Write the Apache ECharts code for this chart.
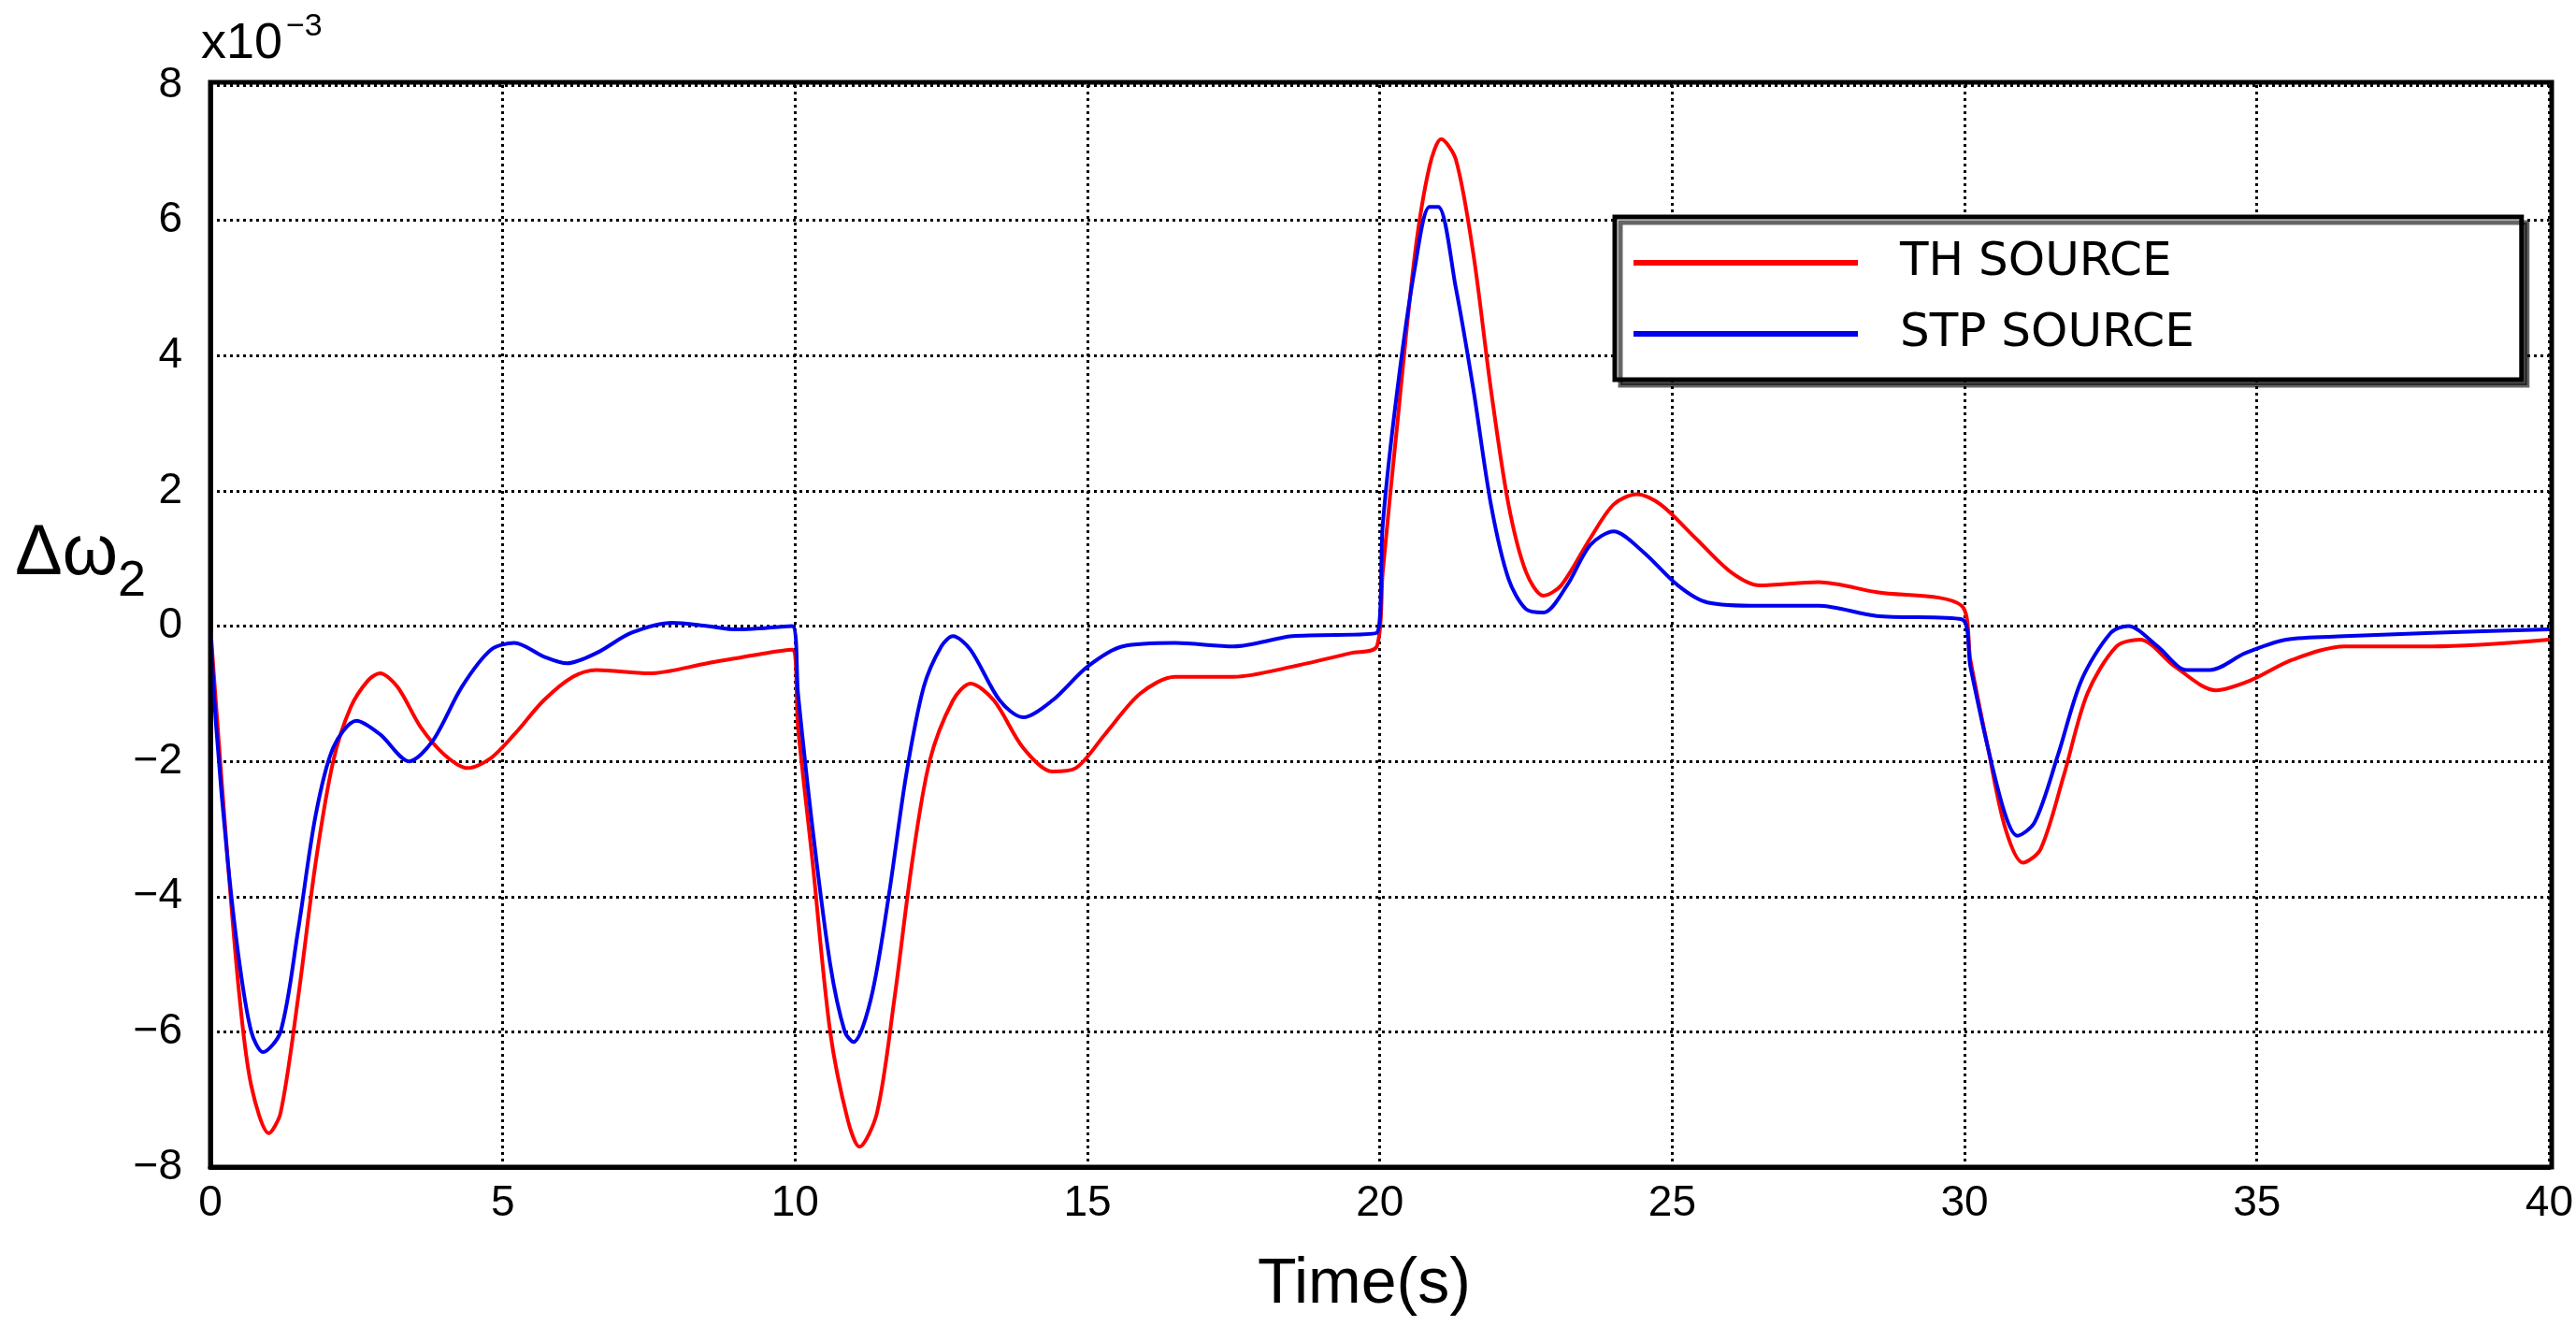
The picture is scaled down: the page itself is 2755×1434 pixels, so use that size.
<!DOCTYPE html>
<html>
<head>
<meta charset="utf-8">
<script src="https://cdn.jsdelivr.net/npm/echarts@6/dist/echarts.min.js"></script>
<style>html,body{margin:0;padding:0;background:#fff}#chart{width:2755px;height:1434px}</style>
</head>
<body>
<div id="chart"></div>
<script>
// values in units of 1e-3
var thTime = [0,0.1,0.3,0.5,0.7,1.0,1.2,1.5,1.8,2.1,2.4,2.7,2.9,3.2,3.6,4.0,4.4,4.8,5.2,5.7,6.2,6.6,7.5,8.5,9.5,9.95,10.05,10.3,10.6,10.9,11.1,11.4,11.7,12.0,12.3,12.7,13.0,13.4,13.9,14.4,14.8,15.3,15.9,16.5,17.5,18.5,19.5,19.95,20.05,20.3,20.6,20.85,21.05,21.3,21.6,21.9,22.2,22.5,22.8,23.1,23.6,24.0,24.4,24.8,25.4,26.0,26.5,27.5,28.5,29.95,30.1,30.4,30.7,31.0,31.3,31.7,32.1,32.6,33.0,33.6,34.3,34.9,35.6,36.5,38,40];
var thValues = [0,-1.2,-3.5,-5.5,-6.8,-7.5,-7.2,-5.5,-3.5,-2.0,-1.2,-0.8,-0.7,-0.9,-1.5,-1.9,-2.1,-1.95,-1.6,-1.1,-0.75,-0.65,-0.7,-0.55,-0.4,-0.35,-1.5,-3.5,-6,-7.3,-7.7,-7.2,-5.5,-3.5,-2.0,-1.1,-0.85,-1.1,-1.8,-2.15,-2.1,-1.6,-1.0,-0.75,-0.75,-0.6,-0.4,-0.3,0.8,3,5.5,6.8,7.2,6.9,5.5,3.5,1.8,0.8,0.45,0.6,1.3,1.8,1.95,1.8,1.3,0.8,0.6,0.65,0.5,0.3,-0.5,-1.8,-3.0,-3.5,-3.3,-2.2,-1.0,-0.3,-0.2,-0.6,-0.95,-0.8,-0.5,-0.3,-0.3,-0.2];
var stpTime = [0,0.1,0.3,0.5,0.7,0.9,1.2,1.5,1.8,2.1,2.5,2.9,3.4,3.8,4.3,4.8,5.2,5.7,6.1,6.6,7.2,7.9,8.5,9.0,9.95,10.05,10.3,10.6,10.85,11.0,11.3,11.6,11.9,12.2,12.5,12.7,13.0,13.5,13.9,14.4,15.0,15.6,16.5,17.5,18.5,19.95,20.05,20.3,20.6,20.85,21.0,21.3,21.6,21.9,22.2,22.5,22.8,23.2,23.6,24.0,24.5,25.1,25.6,26.5,27.5,28.5,29.95,30.1,30.4,30.7,30.9,31.2,31.6,32.0,32.5,32.8,33.3,33.8,34.2,34.8,35.5,36.5,38,40];
var stpValues = [0,-1.5,-3.5,-5.0,-6.0,-6.3,-6.0,-4.5,-2.8,-1.8,-1.4,-1.6,-2.0,-1.7,-0.9,-0.35,-0.25,-0.45,-0.55,-0.4,-0.1,0.05,0.0,-0.05,0,-1.0,-3.0,-5.0,-6.0,-6.15,-5.5,-4.0,-2.2,-0.9,-0.3,-0.15,-0.35,-1.1,-1.35,-1.1,-0.6,-0.3,-0.25,-0.3,-0.15,-0.1,1.5,3.5,5.3,6.2,6.2,5.0,3.5,1.8,0.7,0.25,0.2,0.6,1.2,1.4,1.1,0.6,0.35,0.3,0.3,0.15,0.1,-0.6,-1.8,-2.8,-3.1,-2.9,-1.9,-0.8,-0.1,0,-0.3,-0.65,-0.65,-0.4,-0.2,-0.15,-0.1,-0.05];

function pairs(t, v) { return t.map(function (x, i) { return [x, v[i]]; }); }

var chart = echarts.init(document.getElementById('chart'));
var split = {show: true, lineStyle: {color: '#000', type: [3, 4], width: 3}};
chart.setOption({
    animation: false,
    grid: {left: 225, right: 26, top: 91, bottom: 186},
    legend: {
        orient: 'vertical', left: 1727, top: 232,
        itemWidth: 240, itemHeight: 6, itemGap: 26,
        padding: [24, 350, 24, 20],
        borderColor: '#000', borderWidth: 5, backgroundColor: '#fff',
        shadowColor: 'rgba(0,0,0,0.6)', shadowOffsetX: 6, shadowOffsetY: 6,
        icon: 'rect',
        textStyle: {fontFamily: 'DejaVu Sans', fontSize: 50, color: '#000', padding: [0, 0, 0, 40]},
        data: ['TH SOURCE', 'STP SOURCE']
    },
    xAxis: {
        type: 'value', min: 0, max: 40, interval: 5,
        axisLine: {onZero: false, lineStyle: {color: '#000', width: 5}},
        axisTick: {show: false},
        axisLabel: {fontFamily: 'Liberation Sans', fontSize: 46, color: '#000', margin: 16},
        splitLine: split
    },
    yAxis: {
        type: 'value', min: -8, max: 8, interval: 2,
        axisLine: {show: true, lineStyle: {color: '#000', width: 5}},
        axisTick: {show: false},
        axisLabel: {fontFamily: 'Liberation Sans', fontSize: 46, color: '#000', margin: 30,
            formatter: function (v) { return String(v).replace('-', '−'); }},
        splitLine: split
    },
    graphic: [
        {type: 'rect', shape: {x: 225, y: 88, width: 2504, height: 1160}, style: {fill: 'none', stroke: '#000', lineWidth: 5}, silent: true, z: 5},
        {type: 'text', left: 215, top: 20, style: {text: 'x10', font: '54px Liberation Sans', fill: '#000'}},
        {type: 'text', left: 306, top: 12, style: {text: '−3', font: '34px Liberation Sans', fill: '#000'}},
        {type: 'text', left: 16, top: 555, style: {text: 'Δω', font: '76px Liberation Sans', fill: '#000'}},
        {type: 'text', left: 126, top: 595, style: {text: '2', font: '54px Liberation Sans', fill: '#000'}},
        {type: 'text', left: 1345, top: 1340, style: {text: 'Time(s)', font: '68px Liberation Sans', fill: '#000'}}
    ],
    series: [
        {name: 'TH SOURCE', type: 'line', showSymbol: false, smooth: 0.3, color: '#ff0000', lineStyle: {width: 4}, data: pairs(thTime, thValues)},
        {name: 'STP SOURCE', type: 'line', showSymbol: false, smooth: 0.3, color: '#0000ee', lineStyle: {width: 4}, data: pairs(stpTime, stpValues)}
    ]
});
</script>
</body>
</html>
